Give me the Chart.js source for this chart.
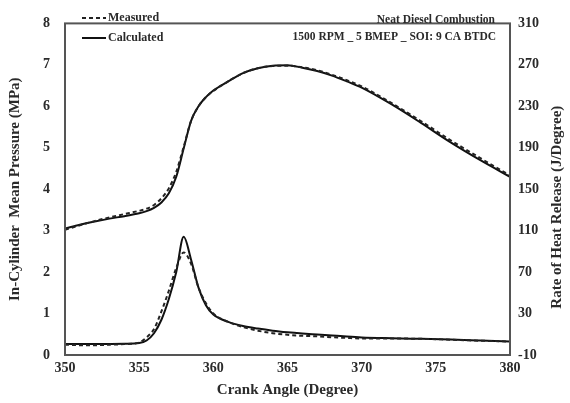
<!DOCTYPE html>
<html>
<head>
<meta charset="utf-8">
<script src="https://cdn.jsdelivr.net/npm/chart.js@4"></script>
<style>
    html, body { margin: 0; padding: 0; background: #fff; }
    #wrap { width: 570px; height: 403px; }
</style>
</head>
<body>
<div id="wrap"><canvas id="combustionChart"></canvas></div>
<script>
// Neat diesel combustion - pressure and heat release vs crank angle

const crankAngle = [350, 351, 352, 353, 354, 355, 355.5, 356, 356.5, 357, 357.5, 358, 358.5, 359, 359.5, 360,
    361, 362, 363, 364, 365, 366, 367, 368, 369, 370, 372, 374, 376, 378, 380];

// In-cylinder mean pressure (MPa)
const pressureMeasured = [3.02, 3.13, 3.23, 3.32, 3.40, 3.48, 3.53, 3.62, 3.78, 4.02, 4.42, 5.02, 5.65, 6.0, 6.22, 6.37,
    6.6, 6.8, 6.92, 6.97, 6.98, 6.94, 6.87, 6.76, 6.63, 6.48, 6.08, 5.64, 5.18, 4.75, 4.33];
const pressureCalculated = [3.05, 3.14, 3.22, 3.29, 3.35, 3.42, 3.47, 3.55, 3.68, 3.90, 4.30, 4.98, 5.65, 6.0, 6.22, 6.38,
    6.6, 6.8, 6.92, 6.98, 6.99, 6.93, 6.85, 6.74, 6.60, 6.45, 6.05, 5.60, 5.13, 4.70, 4.30];

// Rate of heat release (J/Degree)
const hrrMeasured = [0, -0.5, -0.5, 0, 0.5, 2, 7, 15, 32, 52, 74, 89, 78, 55, 40, 30,
    22, 17, 13.5, 11, 9.5, 8.5, 8, 7.2, 6.5, 6, 6, 5.6, 4.8, 3.8, 3];
const hrrCalculated = [0.5, 0.5, 0.5, 0.6, 0.8, 1.5, 4, 11, 24, 44, 70, 104, 82, 55, 38, 29,
    22, 18, 15.5, 13.5, 12, 10.8, 9.8, 8.8, 7.8, 7, 6.2, 5.6, 5, 4, 3];

const xTicks = [350, 355, 360, 365, 370, 375, 380];
const pressureTicks = [0, 1, 2, 3, 4, 5, 6, 7, 8];
const hrrTicks = [-10, 30, 70, 110, 150, 190, 230, 270, 310];

const noteLines = ['Neat Diesel Combustion', '1500 RPM _ 5 BMEP _ SOI: 9 CA BTDC'];

const serif = "'Liberation Serif', 'Times New Roman', serif";
const textColor = '#2a2a2a';

function toPoints(ys) {
    return crankAngle.map((x, i) => ({ x: x, y: ys[i] }));
}

// frame, legend, notes and right axis title drawn on the canvas
const decorPlugin = {
    id: 'decor',
    afterDraw(chart) {
        const ctx = chart.ctx;
        const a = chart.chartArea;
        ctx.save();

        // plot frame
        ctx.strokeStyle = '#555';
        ctx.lineWidth = 2;
        ctx.strokeRect(a.left, a.top, a.right - a.left, a.bottom - a.top);

        // legend inside plot
        const items = [
            { label: 'Measured', dash: [4, 3], color: '#222' },
            { label: 'Calculated', dash: [], color: '#111' }
        ];
        ctx.font = 'bold 12px ' + serif;
        ctx.textBaseline = 'middle';
        ctx.textAlign = 'left';
        items.forEach((it, i) => {
            const y = 18 + i * 20;
            ctx.beginPath();
            ctx.setLineDash(it.dash);
            ctx.strokeStyle = it.color;
            ctx.lineWidth = 2;
            ctx.moveTo(82, y);
            ctx.lineTo(106, y);
            ctx.stroke();
            ctx.setLineDash([]);
            ctx.fillStyle = textColor;
            ctx.fillText(it.label, 108, y);
        });

        // test condition notes
        ctx.font = 'bold 11.5px ' + serif;
        ctx.textAlign = 'right';
        ctx.fillText(noteLines[0], 495, 20);
        ctx.fillText(noteLines[1], 496, 37);

        // right axis title, reading upward
        ctx.translate(557, (a.top + a.bottom) / 2 + 18);
        ctx.rotate(-Math.PI / 2);
        ctx.textAlign = 'center';
        ctx.font = 'bold 15px ' + serif;
        ctx.fillText('Rate of Heat Release (J/Degree)', 0, 0);
        ctx.restore();
    }
};

const tickFont = { family: serif, size: 14, weight: 'bold' };
const titleFont = { family: serif, size: 15, weight: 'bold' };

new Chart(document.getElementById('combustionChart'), {
    type: 'line',
    data: {
        datasets: [
            {
                label: 'Measured',
                data: toPoints(pressureMeasured),
                yAxisID: 'y',
                borderColor: '#222',
                borderWidth: 2,
                borderDash: [4, 3],
                pointRadius: 0,
                cubicInterpolationMode: 'monotone'
            },
            {
                label: 'Calculated',
                data: toPoints(pressureCalculated),
                yAxisID: 'y',
                borderColor: '#111',
                borderWidth: 2,
                pointRadius: 0,
                cubicInterpolationMode: 'monotone'
            },
            {
                label: 'Measured HRR',
                data: toPoints(hrrMeasured),
                yAxisID: 'y1',
                borderColor: '#222',
                borderWidth: 2,
                borderDash: [4, 3],
                pointRadius: 0,
                cubicInterpolationMode: 'monotone'
            },
            {
                label: 'Calculated HRR',
                data: toPoints(hrrCalculated),
                yAxisID: 'y1',
                borderColor: '#111',
                borderWidth: 2,
                pointRadius: 0,
                cubicInterpolationMode: 'monotone'
            }
        ]
    },
    options: {
        responsive: true,
        maintainAspectRatio: false,
        animation: false,
        layout: { padding: { top: 7 } },
        plugins: {
            legend: { display: false },
            tooltip: { enabled: false }
        },
        scales: {
            x: {
                type: 'linear',
                min: 350,
                max: 380,
                afterBuildTicks: scale => { scale.ticks = xTicks.map(v => ({ value: v })); },
                afterFit: scale => { scale.height = 48; },
                grid: { display: false, drawTicks: false },
                border: { display: false },
                ticks: { color: textColor, font: tickFont, padding: 5 },
                title: {
                    display: true,
                    text: 'Crank Angle (Degree)',
                    color: textColor,
                    font: titleFont,
                    padding: { top: 3 }
                }
            },
            y: {
                position: 'left',
                min: 0,
                max: 8,
                afterBuildTicks: scale => { scale.ticks = pressureTicks.map(v => ({ value: v })); },
                afterFit: scale => { scale.width = 65; },
                grid: { display: false, drawTicks: false },
                border: { display: false },
                ticks: { color: textColor, font: tickFont, padding: 15 },
                title: {
                    display: true,
                    text: 'In-Cylinder  Mean Pressure (MPa)',
                    color: textColor,
                    font: titleFont,
                    padding: { top: 6, bottom: 0 }
                }
            },
            y1: {
                position: 'right',
                min: -10,
                max: 310,
                afterBuildTicks: scale => { scale.ticks = hrrTicks.map(v => ({ value: v })); },
                afterFit: scale => { scale.width = 60; },
                grid: { display: false, drawTicks: false },
                border: { display: false },
                ticks: { color: textColor, font: tickFont, padding: 8 }
            }
        }
    },
    plugins: [decorPlugin]
});
</script>
</body>
</html>
